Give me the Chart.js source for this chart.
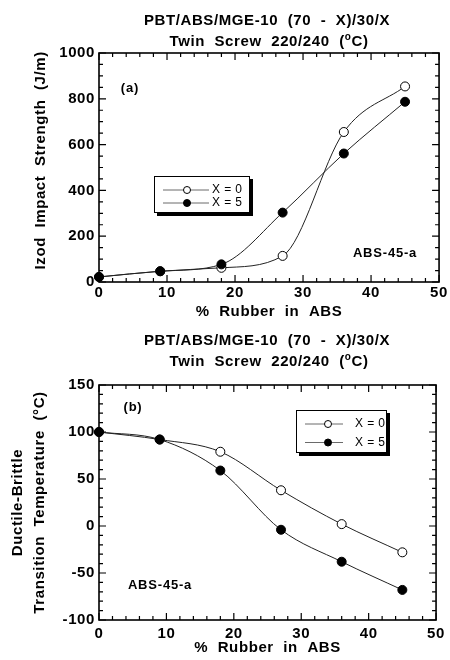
<!DOCTYPE html>
<html>
<head>
<meta charset="utf-8">
<script src="https://cdn.jsdelivr.net/npm/chart.js@4.4.1/dist/chart.umd.min.js"></script>
<style>
  body { margin: 0; background: #fff; }
  .panel { position: absolute; left: 0; width: 450px; height: 330px; }
</style>
</head>
<body>
<div class="panel" style="top:0"><canvas id="impact" width="450" height="330"></canvas></div>
<div class="panel" style="top:330px"><canvas id="dbtt" width="450" height="330"></canvas></div>
<script>
// PBT/ABS/MGE-10 blends: (a) Izod impact, (b) ductile-brittle transition vs rubber content
const rubberPct = [0, 9, 18, 27, 36, 45];
const izodX0 = [22, 47, 62, 114, 655, 854];
const izodX5 = [22, 47, 77, 303, 561, 787];
const dbttX0 = [100, 92, 79, 38, 2, -28];
const dbttX5 = [100, 92, 59, -4, -38, -68];

const seriesLabels = ['X = 0', 'X = 5'];
const rubberTicks = [0, 10, 20, 30, 40, 50];
const izodTicks = [0, 200, 400, 600, 800, 1000];
const dbttTicks = [-100, -50, 0, 50, 100, 150];

const titleLine1 = 'PBT/ABS/MGE-10  (70  -  X)/30/X';
const titleLine2 = ['Twin  Screw  220/240  (', 'o', 'C)'];   // middle piece is superscript
const gradeLabel = 'ABS-45-a';

const FONT = "'Liberation Sans', Arial, Helvetica, sans-serif";
Chart.defaults.font.family = FONT;
Chart.defaults.color = '#000';

// slightly spaced lettering like the original figure
const spacing = {
    id: 'spacing',
    beforeLayout(chart) { chart.ctx.letterSpacing = '0.6px'; },
    beforeDraw(chart) { chart.ctx.letterSpacing = '0.6px'; }
};

// box frame with inward major/minor ticks on all four sides
const frameTicks = {
    id: 'frameTicks',
    beforeDatasetsDraw(chart, args, o) {
        const { ctx, chartArea: a, scales: { x, y } } = chart;
        ctx.save();
        ctx.strokeStyle = '#000';
        ctx.lineWidth = 1.2;
        ctx.beginPath();
        for (let v = x.min; v <= x.max + 1e-9; v += o.xMinor) {
            const px = x.getPixelForValue(v);
            const len = Math.abs(v % o.xMajor) < 1e-9 ? 7 : 4;
            ctx.moveTo(px, a.bottom); ctx.lineTo(px, a.bottom - len);
            ctx.moveTo(px, a.top); ctx.lineTo(px, a.top + len);
        }
        for (let v = y.min; v <= y.max + 1e-9; v += o.yMinor) {
            const py = y.getPixelForValue(v);
            const len = Math.abs(v % o.yMajor) < 1e-9 ? 7 : 4;
            ctx.moveTo(a.left, py); ctx.lineTo(a.left + len, py);
            ctx.moveTo(a.right, py); ctx.lineTo(a.right - len, py);
        }
        ctx.stroke();
        ctx.lineWidth = 1.6;
        ctx.strokeRect(a.left, a.top, a.right - a.left, a.bottom - a.top);
        ctx.restore();
    }
};

function drawPieces(ctx, pieces, cx, cy) {
    const big = `bold 15px ${FONT}`, small = `bold 10px ${FONT}`;
    const widths = pieces.map((t, i) => {
        ctx.font = i === 1 ? small : big;
        return ctx.measureText(t).width;
    });
    let x = cx - widths.reduce((s, w) => s + w, 0) / 2;
    ctx.textAlign = 'left';
    pieces.forEach((t, i) => {
        ctx.font = i === 1 ? small : big;
        ctx.fillText(t, x, i === 1 ? cy - 5 : cy);
        x += widths[i];
    });
}

function drawLegend(ctx, chart, L) {
    ctx.fillStyle = '#000';
    ctx.fillRect(L.x + 3, L.y + 3, L.w, L.h);
    ctx.fillStyle = '#fff';
    ctx.fillRect(L.x, L.y, L.w, L.h);
    ctx.strokeStyle = '#000';
    ctx.lineWidth = 1;
    ctx.strokeRect(L.x + 0.5, L.y + 0.5, L.w - 1, L.h - 1);
    chart.data.datasets.forEach((ds, i) => {
        const ry = L.rows[i];
        ctx.strokeStyle = '#444';
        ctx.lineWidth = 0.8;
        ctx.beginPath();
        ctx.moveTo(L.line0, ry); ctx.lineTo(L.line1, ry);
        ctx.stroke();
        ctx.beginPath();
        ctx.arc(L.mark, ry, 3.5, 0, Math.PI * 2);
        ctx.fillStyle = ds.pointBackgroundColor;
        ctx.fill();
        ctx.strokeStyle = '#000';
        ctx.lineWidth = 1;
        ctx.stroke();
        ctx.fillStyle = '#000';
        ctx.font = `12px ${FONT}`;
        ctx.letterSpacing = '0.4px';
        ctx.textAlign = 'left';
        ctx.fillText(ds.label, L.text, ry);
    });
}

const annotate = {
    id: 'annotate',
    afterDraw(chart, args, o) {
        const ctx = chart.ctx;
        ctx.save();
        ctx.fillStyle = '#000';
        ctx.textBaseline = 'middle';
        ctx.letterSpacing = '0.6px';
        ctx.font = `bold 15px ${FONT}`;
        ctx.textAlign = 'center';
        ctx.fillText(titleLine1, o.titleX, o.titleY);
        drawPieces(ctx, titleLine2, o.titleX + 2, o.titleY + 21);
        ctx.font = `bold 13px ${FONT}`;
        ctx.letterSpacing = '0.8px';
        ctx.textAlign = 'center';
        ctx.fillText(o.panel, o.panelX, o.panelY);
        ctx.fillText(gradeLabel, o.gradeX, o.gradeY);
        drawLegend(ctx, chart, o.legend);
        ctx.restore();
    }
};

function series(label, values, fill, order) {
    return {
        label: label,
        data: rubberPct.map((x, i) => ({ x: x, y: values[i] })),
        order: order,
        borderColor: '#222',
        borderWidth: 1,
        cubicInterpolationMode: 'monotone',
        pointRadius: 4.5,
        pointBorderWidth: 1,
        pointBorderColor: '#000',
        pointBackgroundColor: fill,
        clip: false,
    };
}

function makeChart(id, cfg) {
    return new Chart(document.getElementById(id), {
        type: 'line',
        data: {
            datasets: [
                series(seriesLabels[0], cfg.x0, '#fff', 1),
                series(seriesLabels[1], cfg.x5, '#000', 0),
            ]
        },
        plugins: [spacing, frameTicks, annotate],
        options: {
            responsive: false,
            animation: false,
            events: [],
            layout: { padding: { top: cfg.top, right: cfg.right, left: 0, bottom: 0 } },
            plugins: {
                legend: { display: false },
                tooltip: { enabled: false },
                frameTicks: cfg.ticks,
                annotate: cfg.notes,
            },
            scales: {
                x: {
                    type: 'linear',
                    min: 0, max: 50,
                    afterBuildTicks: s => { s.ticks = rubberTicks.map(v => ({ value: v })); },
                    afterFit: s => { s.height = cfg.xHeight; },
                    grid: { display: false, drawTicks: false },
                    border: { display: false },
                    ticks: { font: { size: 15, weight: 'bold' }, padding: cfg.xTickPad, maxRotation: 0, callback: v => String(v) },
                    title: { display: true, text: '%  Rubber  in  ABS', font: { size: 15, weight: 'bold' }, padding: { top: 0, bottom: cfg.xTitlePad } }
                },
                y: {
                    type: 'linear',
                    min: cfg.yTicks[0], max: cfg.yTicks[cfg.yTicks.length - 1],
                    afterBuildTicks: s => { s.ticks = cfg.yTicks.map(v => ({ value: v })); },
                    afterFit: s => { s.width = 99; },
                    grid: { display: false, drawTicks: false },
                    border: { display: false },
                    ticks: { font: { size: 15, weight: 'bold' }, padding: 4, callback: v => String(v) },
                    title: { display: true, text: cfg.yTitle, font: { size: 15, weight: 'bold', lineHeight: 22 / 15 }, padding: { top: cfg.yTitlePad, bottom: 0 } }
                }
            }
        }
    });
}

makeChart('impact', {
    x0: izodX0, x5: izodX5,
    yTicks: izodTicks,
    yTitle: '   Izod  Impact  Strength  (J/m)',
    top: 53, right: 10, xHeight: 48, xTickPad: 2, xTitlePad: 9, yTitlePad: 30,
    ticks: { xMinor: 2, xMajor: 10, yMinor: 50, yMajor: 200 },
    notes: {
        titleX: 267, titleY: 21,
        panel: '(a)', panelX: 130, panelY: 88,
        gradeX: 385, gradeY: 253,
        legend: { x: 154, y: 176, w: 96, h: 37, rows: [190, 203], line0: 163, line1: 209, mark: 187, text: 212 }
    }
});

makeChart('dbtt', {
    x0: dbttX0, x5: dbttX5,
    yTicks: dbttTicks,
    yTitle: ['Ductile-Brittle', 'Transition  Temperature  (°C)'],
    top: 55, right: 9, xHeight: 40, xTickPad: 5, xTitlePad: 3, yTitlePad: 7,
    ticks: { xMinor: 2, xMajor: 10, yMinor: 10, yMajor: 50 },
    notes: {
        titleX: 267, titleY: 11,
        panel: '(b)', panelX: 133, panelY: 77,
        gradeX: 160, gradeY: 255,
        legend: { x: 296, y: 80, w: 91, h: 43, rows: [94, 112.5], line0: 305, line1: 343, mark: 328, text: 355 }
    }
});
</script>
</body>
</html>
